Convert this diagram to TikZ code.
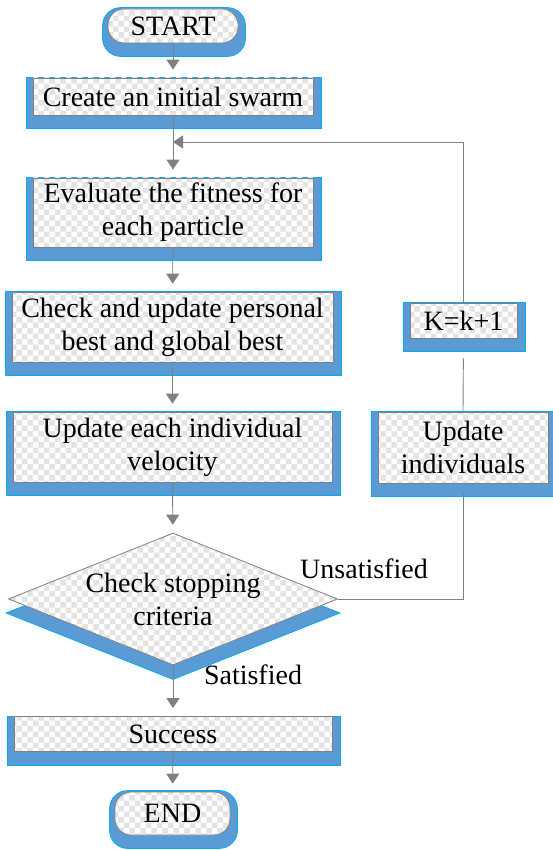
\documentclass[tikz,border=0pt]{standalone}
\usepackage{fontspec}
\setmainfont{Liberation Serif}
\usepackage{tikz}
\usetikzlibrary{arrows.meta, shapes.geometric, patterns, backgrounds}
\definecolor{colorBase}{RGB}{91,155,213}
\definecolor{colorEdge}{RGB}{128,128,128}
\definecolor{colorLine}{RGB}{128,128,128}
\tikzset{
  flowBox/.style={rectangle, draw=colorEdge, line width=0.8pt, preaction={fill=white}, pattern=checkerboard, pattern color=gray!22, inner sep=0pt, align=center, font=\fontsize{28}{33}\selectfont},
  terminal/.style={flowBox, rounded corners=16pt},
  decision/.style={flowBox, diamond, aspect=2.5},
  blueBase/.style={fill=colorBase, draw=cyan, line width=0.8pt},
  flowLine/.style={draw=colorLine, line width=0.9pt},
  flowArrow/.style={flowLine, -{Triangle[width=13pt,length=10pt]}, shorten >=8pt},
}

\begin{document}
\begin{tikzpicture}[x=1pt, y=-1pt]
\useasboundingbox (0,0) rectangle (553,850);
\node[terminal, minimum width=130, minimum height=34] (start) at (173,26) {START};
\node[flowBox, minimum width=280, minimum height=37] (create) at (173,96.5) {Create an initial swarm};
\node[flowBox, minimum width=280, minimum height=69] (evaluate) at (173,212.5) {Evaluate the fitness for\\each particle};
\node[flowBox, minimum width=321, minimum height=70] (checkupd) at (172.5,327) {Check and update personal\\best and global best};
\node[flowBox, minimum width=319, minimum height=70] (velocity) at (172.5,447) {Update each individual\\velocity};
\node[decision, minimum width=329, minimum height=132] (check) at (173,599) {Check stopping\\criteria};
\node[flowBox, minimum width=318, minimum height=35] (success) at (173,734) {Success};
\node[terminal, minimum width=115, minimum height=43] (end) at (172.5,813.5) {END};
\node[flowBox, minimum width=107, minimum height=35] (kinc) at (463.5,320.5) {K=k+1};
\node[flowBox, minimum width=170, minimum height=71] (indiv) at (463,447.5) {Update\\individuals};
\coordinate (merge) at (173,142);
\node[font=\fontsize{28}{33}\selectfont] (unsat) at (364,569) {Unsatisfied};
\node[font=\fontsize{28}{33}\selectfont] (sat) at (253,675) {Satisfied};

\begin{scope}[on background layer]
\foreach \n in {create, evaluate, checkupd, velocity, success, kinc, indiv}
  \fill[blueBase] ([xshift=-6pt]\n.north west) rectangle ([xshift=8pt,yshift=-13pt]\n.south east);
\foreach \n in {start, end}
  \fill[blueBase, rounded corners=18pt] ([xshift=-5pt,yshift=1pt]\n.north west) rectangle ([xshift=7pt,yshift=-13pt]\n.south east);
\fill[blueBase] ([xshift=-2pt,yshift=-14pt]check.west) -- ([yshift=-14pt]check.north) -- ([xshift=2pt,yshift=-14pt]check.east) -- ([yshift=-14pt]check.south) -- cycle;
\end{scope}

\draw[flowArrow] (start) -- (create);
\draw[flowArrow] (create) -- (evaluate);
\draw[flowArrow] (evaluate) -- (checkupd);
\draw[flowArrow] (checkupd) -- (velocity);
\draw[flowArrow] (velocity) -- (check);
\draw[flowArrow] (check) -- (success);
\draw[flowArrow] (success) -- (end);
\draw[flowLine, shorten >=10pt] (check.east) -| (indiv.south);
\draw[flowLine, shorten >=20pt] (indiv.north) -- (kinc.south);
\draw[flowLine, -{Triangle[width=13pt,length=10pt]}] (kinc.north) |- (merge);
\end{tikzpicture}
\end{document}
